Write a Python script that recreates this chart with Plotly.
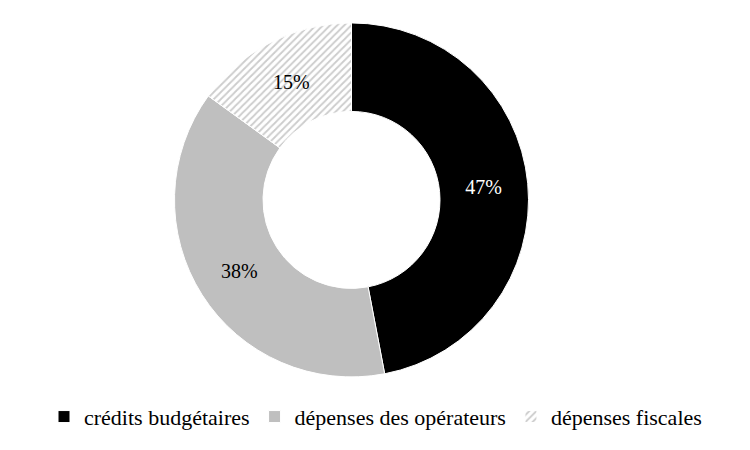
import plotly.graph_objects as go

labels = ["crédits budgétaires", "dépenses des opérateurs", "dépenses fiscales"]
values = [47, 38, 15]
colors = ["#000000", "#bfbfbf", "#ffffff"]
text_colors = ["#ffffff", "#000000", "#000000"]

FONT = "Liberation Serif"

fig = go.Figure(go.Pie(
    labels=labels,
    values=values,
    hole=0.5,
    sort=False,
    direction="clockwise",
    rotation=0,
    marker=dict(
        colors=colors,
        line=dict(color="#ffffff", width=1),
        pattern=dict(shape=["", "", "/"], fgcolor="#cccccc", bgcolor="#ffffff", size=5, solidity=0.35),
    ),
    texttemplate="%{value}%",
    textposition="inside",
    insidetextorientation="horizontal",
    textfont=dict(color=text_colors, size=20, family=FONT),
    domain=dict(x=[0.222, 0.694], y=[0.18, 0.967]),
    hoverinfo="label+percent",
))

fig.update_layout(
    width=750, height=450,
    margin=dict(l=0, r=0, t=0, b=0),
    paper_bgcolor="white",
    plot_bgcolor="white",
    font=dict(family=FONT, size=22, color="#000000"),
    showlegend=True,
    legend=dict(orientation="h", x=0.49, xanchor="center", y=0.045, yanchor="bottom",
                font=dict(size=22, family=FONT), itemwidth=30, traceorder="normal"),
)

fig.write_html("out.html")
